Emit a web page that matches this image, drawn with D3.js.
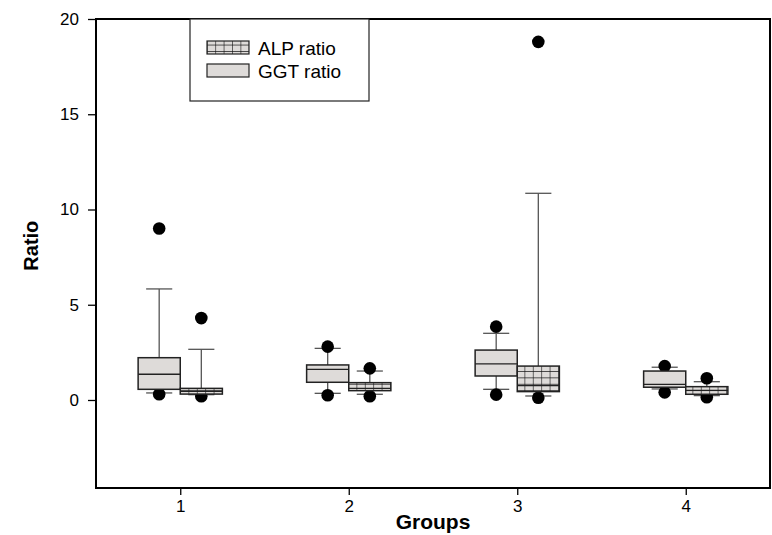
<!DOCTYPE html>
<html>
<head>
<meta charset="utf-8">
<script src="https://cdn.jsdelivr.net/npm/d3@7"></script>
<style>
  body { margin: 0; background: #fff; }
  svg { font-family: "Liberation Sans", Arial, sans-serif; }
</style>
</head>
<body>
<div id="chart"></div>
<script>
// groups along x
const groups = [1, 2, 3, 4];
const seriesNames = ["ALP ratio", "GGT ratio"];

// GGT ratio (plain boxes, left in each group)
const ggtWhiskerLow  = [0.37, 0.35, 0.56, 0.58];
const ggtQ1          = [0.56, 0.93, 1.26, 0.67];
const ggtMedian      = [1.35, 1.61, 1.90, 0.82];
const ggtQ3          = [2.22, 1.84, 2.62, 1.52];
const ggtWhiskerHigh = [5.83, 2.71, 3.50, 1.72];
const ggtOutliers    = [[9.0, 0.30], [2.80, 0.25], [3.85, 0.28], [1.78, 0.40]];

// ALP ratio (hatched boxes, right in each group)
const alpWhiskerLow  = [0.28, 0.30, 0.21, 0.23];
const alpQ1          = [0.31, 0.49, 0.44, 0.30];
const alpMedian      = [0.45, 0.61, 0.75, 0.50];
const alpQ3          = [0.61, 0.91, 1.78, 0.70];
const alpWhiskerHigh = [2.66, 1.52, 10.85, 0.96];
const alpOutliers    = [[4.3, 0.20], [1.66, 0.20], [18.8, 0.12], [1.14, 0.14]];

const yTicks = [0, 5, 10, 15, 20];

const margin = {top: 19, right: 2, bottom: 47, left: 96};
const width = 772, height = 535;
const innerW = width - margin.left - margin.right;
const innerH = height - margin.top - margin.bottom;

const svg = d3.select("#chart").append("svg")
    .attr("width", width)
    .attr("height", height);

const defs = svg.append("defs");
const pat = defs.append("pattern")
    .attr("id", "grid")
    .attr("patternUnits", "userSpaceOnUse")
    .attr("width", 8.4)
    .attr("height", 6.4);
pat.append("rect").attr("width", 8.4).attr("height", 6.4).attr("fill", "#dedbd9");
pat.append("path").attr("d", "M0,0V6.4M0,0H8.4")
    .attr("stroke", "#111").attr("stroke-width", 1.2).attr("fill", "none");

const chart = svg.append("g")
    .attr("transform", `translate(${margin.left},${margin.top})`);

const x = d3.scaleLinear().domain([0.5, 4.5]).range([0, innerW]);
const y = d3.scaleLinear().domain([-4.62, 20]).range([innerH, 0]);

const boxW = x(0.75) - x(0.5);
const capW = boxW * 0.62;

const series = [
    {key: "GGT", offset: -boxW / 2, fill: "#dedbd9",
     wl: ggtWhiskerLow, q1: ggtQ1, med: ggtMedian, q3: ggtQ3, wh: ggtWhiskerHigh, out: ggtOutliers},
    {key: "ALP", offset: boxW / 2, fill: "url(#grid)",
     wl: alpWhiskerLow, q1: alpQ1, med: alpMedian, q3: alpQ3, wh: alpWhiskerHigh, out: alpOutliers}
];

const rows = [];
series.forEach(s => groups.forEach((g, i) => rows.push({
    s, g, cx: x(g) + s.offset,
    wl: s.wl[i], q1: s.q1[i], med: s.med[i], q3: s.q3[i], wh: s.wh[i], out: s.out[i]
})));

// whiskers
const wg = chart.append("g").attr("stroke", "#555").attr("stroke-width", 1.3);
rows.forEach(d => {
    wg.append("line").attr("x1", d.cx).attr("x2", d.cx).attr("y1", y(d.q3)).attr("y2", y(d.wh));
    wg.append("line").attr("x1", d.cx).attr("x2", d.cx).attr("y1", y(d.q1)).attr("y2", y(d.wl));
    wg.append("line").attr("x1", d.cx - capW / 2).attr("x2", d.cx + capW / 2).attr("y1", y(d.wh)).attr("y2", y(d.wh));
    wg.append("line").attr("x1", d.cx - capW / 2).attr("x2", d.cx + capW / 2).attr("y1", y(d.wl)).attr("y2", y(d.wl));
});

// outliers
chart.append("g").selectAll("circle")
    .data(rows.flatMap(d => d.out.map(v => ({cx: d.cx, v}))))
    .join("circle")
    .attr("cx", d => d.cx)
    .attr("cy", d => y(d.v))
    .attr("r", 6.3)
    .attr("fill", "#000");

// boxes
const bg = chart.append("g");
rows.forEach(d => {
    bg.append("rect")
        .attr("x", d.cx - boxW / 2)
        .attr("y", y(d.q3))
        .attr("width", boxW)
        .attr("height", y(d.q1) - y(d.q3))
        .attr("fill", d.s.fill)
        .attr("stroke", "#222")
        .attr("stroke-width", 1.5);
    bg.append("line")
        .attr("x1", d.cx - boxW / 2).attr("x2", d.cx + boxW / 2)
        .attr("y1", y(d.med)).attr("y2", y(d.med))
        .attr("stroke", "#222").attr("stroke-width", 1.3);
});

// frame
chart.append("rect")
    .attr("width", innerW).attr("height", innerH)
    .attr("fill", "none").attr("stroke", "#000").attr("stroke-width", 2);

// axes
const yAxis = chart.append("g")
    .call(d3.axisLeft(y).tickValues(yTicks).tickFormat(d3.format("d")).tickSize(8).tickPadding(9));
const xAxis = chart.append("g")
    .attr("transform", `translate(0,${innerH})`)
    .call(d3.axisBottom(x).tickValues(groups).tickFormat(d3.format("d")).tickSize(7).tickPadding(5));
[yAxis, xAxis].forEach(a => {
    a.select(".domain").remove();
    a.selectAll(".tick line").attr("stroke", "#000").attr("stroke-width", 1.3);
    a.selectAll(".tick text").attr("font-size", 17).attr("fill", "#000")
        .attr("font-family", "Liberation Sans, Arial, sans-serif");
});

svg.append("text")
    .attr("x", margin.left + x(2.5)).attr("y", 529)
    .attr("text-anchor", "middle")
    .attr("font-size", 21).attr("font-weight", "bold")
    .text("Groups");
svg.append("text")
    .attr("transform", `translate(38,${margin.top + y(8.1)}) rotate(-90)`)
    .attr("text-anchor", "middle")
    .attr("font-size", 20).attr("font-weight", "bold")
    .text("Ratio");

// legend
const lg = svg.append("g").attr("transform", "translate(190,19)");
lg.append("rect").attr("width", 179).attr("height", 82)
    .attr("fill", "#fff").attr("stroke", "#222").attr("stroke-width", 1.2);
const legFills = ["url(#grid)", "#dedbd9"];
seriesNames.forEach((n, i) => {
    lg.append("rect")
        .attr("x", 17).attr("y", 22 + i * 23)
        .attr("width", 42).attr("height", 13)
        .attr("fill", legFills[i]).attr("stroke", "#222").attr("stroke-width", 1.2);
    lg.append("text")
        .attr("x", 68).attr("y", 36 + i * 23)
        .attr("font-size", 19)
        .text(n);
});
</script>
</body>
</html>
